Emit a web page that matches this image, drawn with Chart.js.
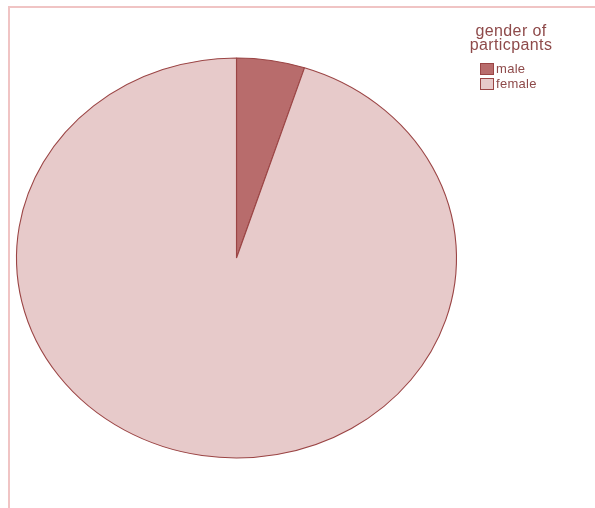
<!DOCTYPE html>
<html>
<head>
<meta charset="utf-8">
<script src="https://cdn.jsdelivr.net/npm/chart.js@4"></script>
<style>
  html, body { margin: 0; padding: 0; background: #fff; }
  #wrap { position: relative; width: 595px; height: 508px; overflow: hidden; }
  #frame { position: absolute; left: 8px; top: 6px; width: 600px; height: 600px;
           border-left: 2px solid #f0c4c4; border-top: 2px solid #f0c4c4; }
  canvas { position: absolute; left: 0; top: 0; }
  #legend { position: absolute; left: 455px; top: 24px; width: 112px;
            font-family: "Liberation Sans", Arial, sans-serif; color: #8e4a4a; }
  #legend .title { text-align: center; font-size: 16px; line-height: 13.5px; letter-spacing: 0.4px; }
  #legend .item { font-size: 13px; line-height: 15px; position: relative; padding-left: 41px; letter-spacing: 0.3px; }
  #legend .box { position: absolute; left: 25px; top: 2px; width: 12px; height: 10px; border: 1px solid #9b4545; }
</style>
</head>
<body>
<div id="wrap">
  <div id="frame"></div>
  <canvas id="pieChart" width="595" height="508"></canvas>
  <div id="legend"></div>
</div>
<script>
// Data
const categories = ['male', 'female'];
const counts = [5, 95];
const sliceColors = ['#b86c6c', '#e7caca'];
const legendTitle = ['gender of', 'particpants'];

// Legend as html text
const legend = document.getElementById('legend');
legend.innerHTML = '<div class="title">' + legendTitle.join('<br>') + '</div><div style="height:10px"></div>' +
    categories.map((c, i) =>
        '<div class="item"><span class="box" style="background:' + sliceColors[i] + '"></span>' + c + '</div>'
    ).join('');

// stretch the pie horizontally so it becomes an ellipse like the original
const ellipse = {
    id: 'ellipse',
    beforeDatasetsDraw(chart) {
        const a = chart.chartArea;
        const cx = (a.left + a.right) / 2, cy = (a.top + a.bottom) / 2;
        chart.ctx.save();
        chart.ctx.translate(cx, cy);
        chart.ctx.scale(1.1, 1);
        chart.ctx.translate(-cx, -cy);
    },
    afterDatasetsDraw(chart) {
        chart.ctx.restore();
    }
};

const ctx = document.getElementById('pieChart').getContext('2d');
new Chart(ctx, {
    type: 'pie',
    data: {
        labels: categories,
        datasets: [{
            data: counts,
            backgroundColor: sliceColors,
            borderColor: '#9b4545',
            borderWidth: 1
        }]
    },
    options: {
        responsive: false,
        animation: false,
        layout: { padding: { left: 36, right: 158, top: 57, bottom: 49 } },
        plugins: {
            legend: { display: false },
            tooltip: { enabled: false }
        }
    },
    plugins: [ellipse]
});
</script>
</body>
</html>
